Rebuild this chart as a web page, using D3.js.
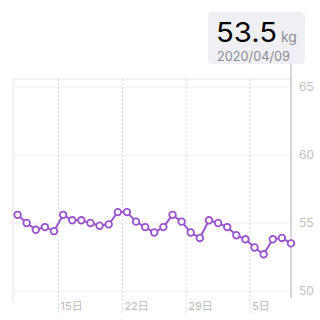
<!DOCTYPE html>
<html><head><meta charset="utf-8">
<script src="https://cdn.jsdelivr.net/npm/d3@7/dist/d3.min.js"></script>
<style>html,body{margin:0;padding:0;background:#fff;}svg{display:block;}</style>
</head><body>
<svg id="c" width="320" height="320"></svg>
<script>
const dates = ["2020-03-10","2020-03-11","2020-03-12","2020-03-13","2020-03-14","2020-03-15","2020-03-16","2020-03-17","2020-03-18","2020-03-19","2020-03-20","2020-03-21","2020-03-22","2020-03-23","2020-03-24","2020-03-25","2020-03-26","2020-03-27","2020-03-28","2020-03-29","2020-03-30","2020-03-31","2020-04-01","2020-04-02","2020-04-03","2020-04-04","2020-04-05","2020-04-06","2020-04-07","2020-04-08","2020-04-09"];
const weights = [55.6,55.0,54.5,54.7,54.4,55.6,55.2,55.2,55.0,54.8,54.9,55.8,55.8,55.1,54.7,54.3,54.7,55.6,55.1,54.3,53.9,55.2,55.0,54.7,54.1,53.8,53.2,52.7,53.8,53.9,53.5];
const xTickDates = ["2020-03-15","2020-03-22","2020-03-29","2020-04-05"];
const xTickLabels = ["15日","22日","29日","5日"];
const yTicks = [50,55,60,65];
const selected = {value:"53.5", unit:"kg", date:"2020/04/09"};

(function(){
const parse = s => { const [yy,m,d] = s.split("-").map(Number); return new Date(yy, m-1, d); };
const noon = s => { const d = parse(s); d.setHours(12); return d; };
const data = dates.map((d,i)=>({date:noon(d), v:weights[i]}));

const svg = d3.select("#c");
const pLeft = 13, pRight = 291, pTop = 79, pBottom = 298;
const x = d3.scaleTime().domain([parse("2020-03-10"), noon("2020-04-09")]).range([pLeft, pRight]);
const y = d3.scaleLinear().domain([50,65]).range([291,87]);

const font = "Inter, 'Noto Sans CJK JP', sans-serif";

svg.append("line").attr("x1",pLeft).attr("x2",pRight).attr("y1",pTop).attr("y2",pTop)
  .attr("stroke","#e6e6e6").attr("stroke-width",1);
svg.selectAll(".hg").data(yTicks).enter().append("line")
  .attr("x1",pLeft).attr("x2",293).attr("y1",d=>y(d)).attr("y2",d=>y(d))
  .attr("stroke","#ededed").attr("stroke-width",1);
svg.append("line").attr("x1",pLeft).attr("x2",pLeft).attr("y1",pTop).attr("y2",303)
  .attr("stroke","#e6e6e6").attr("stroke-width",1);
svg.selectAll(".vg").data(xTickDates).enter().append("line")
  .attr("x1",d=>x(parse(d))).attr("x2",d=>x(parse(d))).attr("y1",pTop).attr("y2",313)
  .attr("stroke","#dcdcdc").attr("stroke-width",1).attr("stroke-dasharray","2,2");
svg.selectAll(".xl").data(xTickDates).enter().append("text")
  .attr("x",d=>x(parse(d))+2).attr("y",310)
  .attr("font-family",font).attr("font-size",11).attr("fill","#bbbbbb")
  .text((d,i)=>xTickLabels[i]);
svg.selectAll(".yl").data(yTicks).enter().append("text")
  .attr("x",299).attr("y",d=>y(d)+4)
  .attr("font-family",font).attr("font-size",12).attr("fill","#c2c2c2")
  .text(d=>d);

const sx = x(data[data.length-1].date);
svg.append("line").attr("x1",sx).attr("x2",sx).attr("y1",63).attr("y2",pBottom)
  .attr("stroke","#c8c8c8").attr("stroke-width",1.5);

svg.append("rect").attr("x",208).attr("y",12).attr("width",97).attr("height",52).attr("rx",5)
  .attr("fill","#efeff4");
svg.append("text").attr("x",216).attr("y",42).attr("font-family",font).attr("font-size",27)
  .attr("textLength",61).attr("lengthAdjust","spacingAndGlyphs")
  .attr("fill","#000").text(selected.value);
svg.append("text").attr("x",281).attr("y",42).attr("font-family",font).attr("font-size",14)
  .attr("fill","#8e8e93").text(selected.unit);
svg.append("text").attr("x",217).attr("y",61).attr("font-family",font).attr("font-size",13.5)
  .attr("textLength",73).attr("lengthAdjust","spacingAndGlyphs")
  .attr("fill","#8e8e93").text(selected.date);

const line = d3.line().x(d=>x(d.date)).y(d=>y(d.v));
svg.append("path").datum(data).attr("d",line).attr("fill","none")
  .attr("stroke","#9a56cc").attr("stroke-width",2).attr("stroke-linejoin","round");
svg.selectAll(".pt").data(data).enter().append("circle")
  .attr("cx",d=>x(d.date)).attr("cy",d=>y(d.v)).attr("r",3.3)
  .attr("fill","#fff").attr("stroke","#9a56cc").attr("stroke-width",1.8);
})();
</script>
</body></html>
